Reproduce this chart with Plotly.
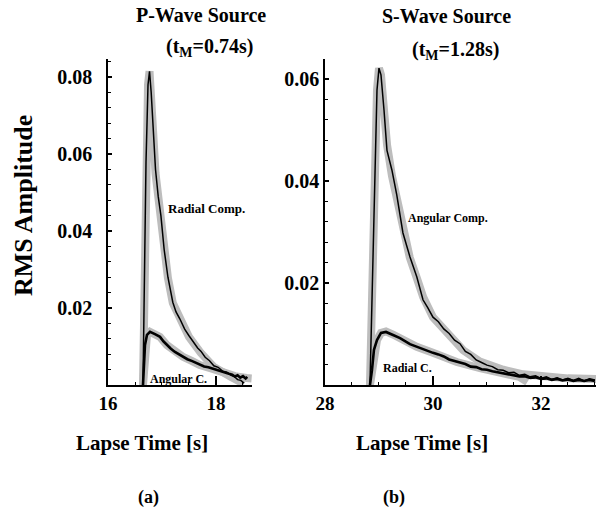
import plotly.graph_objects as go

W, H = 596, 511

# ---------------- data ----------------
# Panel (a): P-wave source
p_rad_theory_t = [16.648, 16.667, 16.704, 16.741, 16.769, 16.80, 16.835, 16.88, 16.93, 16.98, 17.04,
                  17.11, 17.20, 17.33, 17.50, 17.72, 17.96, 18.28, 18.52]
p_rad_theory_a = [0.0, 0.022, 0.058, 0.078, 0.0815, 0.076, 0.066, 0.055, 0.048, 0.0436, 0.035,
                  0.0278, 0.0213, 0.0169, 0.0125, 0.0083, 0.0047, 0.0021, 0.0003]

p_rad_sim_t = [16.648, 16.667, 16.704, 16.741, 16.769, 16.80, 16.835, 16.88, 16.93, 16.98, 17.04,
               17.11, 17.20, 17.26, 17.33, 17.42, 17.50, 17.58, 17.66, 17.72, 17.80, 17.88,
               17.96, 18.04, 18.12, 18.20, 18.28, 18.34, 18.40, 18.46, 18.52]
p_rad_sim_a = [0.0, 0.022, 0.058, 0.078, 0.0815, 0.076, 0.066, 0.056, 0.049, 0.0440, 0.0352,
               0.0280, 0.0215, 0.0190, 0.0172, 0.0145, 0.0128, 0.0112, 0.0096, 0.0088, 0.0072, 0.0063,
               0.0050, 0.0046, 0.0036, 0.0033, 0.0025, 0.0022, 0.0014, 0.0012, 0.0005]

p_ang_theory_t = [16.648, 16.667, 16.685, 16.722, 16.778, 16.87, 16.963, 17.09, 17.24, 17.39,
                  17.56, 17.70, 17.94, 18.17, 18.35, 18.57, 18.66]
p_ang_theory_a = [0.0, 0.0039, 0.0104, 0.0130, 0.0138, 0.0132, 0.0125, 0.0104, 0.0086, 0.0073,
                  0.0062, 0.0052, 0.0042, 0.0031, 0.0023, 0.0018, 0.0017]

p_ang_sim_t = [16.648, 16.667, 16.685, 16.722, 16.778, 16.87, 16.963, 17.03, 17.09, 17.16, 17.24,
               17.31, 17.39, 17.47, 17.56, 17.63, 17.70, 17.78, 17.86, 17.94, 18.02, 18.10,
               18.17, 18.24, 18.30, 18.35, 18.40, 18.45, 18.50, 18.55, 18.58]
p_ang_sim_a = [0.0, 0.0039, 0.0104, 0.0130, 0.0138, 0.0132, 0.0125, 0.0113, 0.0104, 0.0095, 0.0086,
               0.0080, 0.0073, 0.0067, 0.0062, 0.0057, 0.0052, 0.0048, 0.0046, 0.0042, 0.0038, 0.0035,
               0.0031, 0.0029, 0.0027, 0.0022, 0.0025, 0.0019, 0.0023, 0.0017, 0.0021]

# Panel (b): S-wave source
s_ang_theory_t = [28.833, 28.87, 28.926, 28.963, 29.0, 29.037, 29.093, 29.15, 29.24, 29.33, 29.44,
                  29.57, 29.70, 29.82, 30.0, 30.26, 30.56, 30.87, 31.3, 31.67, 32.04, 32.5, 33.02]
s_ang_theory_a = [0.0, 0.0167, 0.046, 0.0578, 0.0621, 0.0608, 0.0539, 0.047, 0.041, 0.0365, 0.030,
                  0.025, 0.021, 0.0172, 0.0133, 0.0100, 0.0068, 0.0046, 0.0030, 0.0021, 0.0016, 0.0013, 0.0012]

s_ang_sim_t = [28.833, 28.87, 28.926, 28.963, 29.0, 29.037, 29.093, 29.148, 29.24, 29.33, 29.444,
               29.574, 29.70, 29.815, 29.9,
               30.0, 30.1, 30.2, 30.3, 30.4, 30.5, 30.6, 30.7, 30.8, 30.9, 31.0, 31.1, 31.2, 31.3,
               31.4, 31.5, 31.6, 31.7, 31.8, 31.9, 32.0, 32.1, 32.2, 32.3, 32.4, 32.5, 32.6, 32.7,
               32.8, 32.9, 33.0]
s_ang_sim_a = [0.0, 0.0167, 0.046, 0.0578, 0.0621, 0.0608, 0.0539, 0.046, 0.0421, 0.0372, 0.0298,
               0.0251, 0.0212, 0.0167, 0.0152,
               0.0133, 0.0124, 0.0110, 0.0101, 0.0088, 0.0081, 0.0066, 0.0060, 0.0049, 0.0044,
               0.0039, 0.0036, 0.0030, 0.0029, 0.0024, 0.0025, 0.0019, 0.0021, 0.0016, 0.0018,
               0.0013, 0.0016, 0.0011, 0.0014, 0.0010, 0.0013, 0.0009, 0.0013, 0.0008, 0.0012, 0.0010]

s_rad_theory_t = [28.833, 28.87, 28.907, 28.963, 29.037, 29.13, 29.26, 29.39, 29.574, 29.70, 30.0,
                  30.44, 30.87, 31.30, 31.60, 31.75]
s_rad_theory_a = [0.0, 0.0029, 0.0069, 0.0088, 0.0102, 0.0105, 0.0099, 0.0092, 0.0080, 0.0075, 0.0063,
                  0.0045, 0.0033, 0.0024, 0.0016, 0.0006]

s_rad_sim_t = [28.833, 28.87, 28.907, 28.963, 29.037, 29.13, 29.26, 29.39, 29.574, 29.70, 29.85,
               30.0, 30.1, 30.2, 30.3, 30.4, 30.5, 30.6, 30.7, 30.8, 30.9, 31.0, 31.1, 31.2, 31.3,
               31.4, 31.5, 31.6, 31.7, 31.8, 31.9, 32.0, 32.1, 32.2, 32.3, 32.4, 32.5, 32.6, 32.7,
               32.8, 32.9, 33.0]
s_rad_sim_a = [0.0, 0.0029, 0.0069, 0.0088, 0.0102, 0.0104, 0.0098, 0.0092, 0.0080, 0.0075, 0.0068,
               0.0063, 0.0060, 0.0056, 0.0050, 0.0047, 0.0043, 0.0041, 0.0036, 0.0035, 0.0031,
               0.0030, 0.0027, 0.0025, 0.0024, 0.0021, 0.0020, 0.0017, 0.0017, 0.0014, 0.0015,
               0.0012, 0.0013, 0.0010, 0.0012, 0.0009, 0.0011, 0.0008, 0.0010, 0.0008, 0.0010, 0.0008]

p_yticks = [0.02, 0.04, 0.06, 0.08]
s_yticks = [0.02, 0.04, 0.06]
p_xticks = [16, 18]
s_xticks = [28, 30, 32]

# ---------------- figure ----------------
FONT = "Liberation Serif, Times New Roman, serif"
GRAY = "#bdbdbd"

def px(x):
    return x / W

def py(y):
    return 1 - y / H

fig = go.Figure()

def add(t, a, color, width, xa, ya):
    fig.add_trace(go.Scatter(x=t, y=a, mode="lines", xaxis=xa, yaxis=ya,
                             line=dict(color=color, width=width), showlegend=False,
                             hoverinfo="skip"))

add(p_rad_theory_t, p_rad_theory_a, GRAY, 8, "x", "y")
add(p_ang_theory_t, p_ang_theory_a, GRAY, 8, "x", "y")
add(p_rad_sim_t, p_rad_sim_a, "black", 1.5, "x", "y")
add(p_ang_sim_t, p_ang_sim_a, "black", 2.6, "x", "y")

add(s_ang_theory_t, s_ang_theory_a, GRAY, 8, "x2", "y2")
add(s_rad_theory_t, s_rad_theory_a, GRAY, 8, "x2", "y2")
add(s_ang_sim_t, s_ang_sim_a, "black", 1.5, "x2", "y2")
add(s_rad_sim_t, s_rad_sim_a, "black", 2.6, "x2", "y2")

ydom = [py(385), py(59)]
tickfont = dict(family=FONT, size=20, color="black", weight="bold")

common_x = dict(showline=True, linecolor="black", linewidth=1.5, ticks="inside", ticklen=9,
                tickwidth=1.5, tickcolor="black", showgrid=False, zeroline=False,
                tickfont=dict(family=FONT, size=19, color="black", weight="bold"),
                minor=dict(dtick=0.5, ticks="inside", ticklen=3, tickwidth=1, tickcolor="black",
                           showgrid=False))
common_y = dict(showline=True, linecolor="black", linewidth=1.5, ticks="inside", ticklen=4,
                tickwidth=1.5, tickcolor="black", showgrid=False, zeroline=False,
                tickfont=tickfont,
                minor=dict(dtick=0.004, tick0=0, ticks="inside", ticklen=3, tickwidth=1,
                           tickcolor="black", showgrid=False))

fig.update_layout(
    width=W, height=H, margin=dict(l=0, r=0, t=0, b=0, autoexpand=False),
    paper_bgcolor="white", plot_bgcolor="white",
    font=dict(family=FONT, color="black"),
    xaxis=dict(domain=[px(108), px(252)], range=[16, 18.667], tickvals=p_xticks,
               anchor="y", **common_x),
    yaxis=dict(domain=ydom, range=[0, 0.0847], tickvals=p_yticks, tickformat=".2f",
               anchor="x", ticklabelstandoff=10, **common_y),
    xaxis2=dict(domain=[px(325), 1.0], range=[28, 33.02], tickvals=s_xticks,
                anchor="y2", **common_x),
    yaxis2=dict(domain=ydom, range=[0, 0.0639], tickvals=s_yticks, tickformat=".2f",
                anchor="x2", ticklabelstandoff=0, **common_y),
)

def note(text, x, y, size, angle=0):
    fig.add_annotation(text=text, x=px(x), y=py(y), xref="paper", yref="paper",
                       xanchor="center", yanchor="middle", showarrow=False, textangle=angle,
                       font=dict(family=FONT, size=size, color="black", weight="bold"))

note("P-Wave Source", 201, 15, 20)
note("(t<sub>M</sub>=0.74s)", 209, 47, 20)
note("S-Wave Source", 446, 16, 20)
note("(t<sub>M</sub>=1.28s)", 455, 50, 20)
note("Lapse Time [s]", 142, 443, 21)
note("Lapse Time [s]", 422, 443, 21)
note("(a)", 148, 497, 18)
note("(b)", 394, 497, 18)
note("RMS Amplitude", 23, 206, 26, angle=-90)
note("Radial Comp.", 206, 208, 13)
note("Angular C.", 178, 379, 12)
note("Angular Comp.", 448, 218, 12)
note("Radial C.", 407, 368, 12)

fig.write_html(
    "out.html",
    config={"displayModeBar": False},
    post_script="document.body.style.margin='0';document.body.style.overflow='hidden';",
)
